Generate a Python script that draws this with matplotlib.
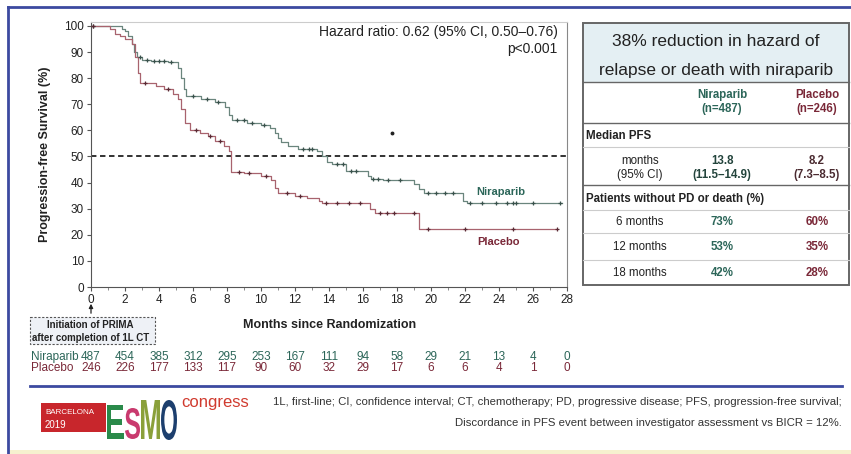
import numpy as np
import matplotlib
matplotlib.use("Agg")
import matplotlib.pyplot as plt
from matplotlib import transforms
from matplotlib.patches import Rectangle, PathPatch
from matplotlib.textpath import TextPath
from matplotlib.font_manager import FontProperties
from matplotlib.transforms import Affine2D

plt.rcParams['font.family'] = ['Liberation Sans', 'DejaVu Sans']

# --- KM curves (time in months, PFS in %) ---
nir_t = [0, 1.8, 2.0, 2.2, 2.4, 2.55, 2.7, 3.0, 3.5, 4.5, 5.1, 5.3, 5.45, 5.6, 6.5, 7.3,
         7.9, 8.1, 8.3, 9.2, 10.0, 10.5, 10.8, 11.0, 11.2, 11.6, 12.2, 13.3, 13.6, 13.9,
         14.2, 15.0, 16.3, 16.5, 17.2, 19.0, 19.3, 19.6, 21.9, 22.1, 27.7]
nir_s = [100, 99, 98, 96, 93, 90, 88, 87, 86.5, 86, 84, 80, 76, 73, 72, 71,
         69, 66, 64, 63, 62, 61, 59, 57, 55.5, 54, 53, 52, 50, 48,
         47, 44.5, 42.5, 41.5, 41, 39.5, 37.5, 36, 33, 32, 32]
pla_t = [0, 1.1, 1.4, 1.7, 2.0, 2.4, 2.6, 2.75, 2.9, 3.8, 4.3, 4.8, 5.1, 5.3, 5.5, 5.8,
         6.4, 6.9, 7.3, 7.8, 8.1, 8.25, 9.0, 10.0, 10.6, 10.85, 11.0, 12.0, 12.7, 13.4,
         13.6, 16.4, 16.7, 19.3, 27.4]
pla_s = [100, 99, 97, 96, 95, 93, 88, 82, 78, 77, 76, 74, 72, 68, 63, 60,
         59, 58, 56, 54, 52, 44, 43.5, 42.5, 41, 38, 36, 35, 34, 33,
         32, 30, 28.4, 22.3, 22.3]
nir_cens = [0.1, 2.9, 3.3, 3.7, 4.0, 4.3, 4.7, 6.0, 6.8, 7.5, 8.6, 9.0, 9.5, 10.2, 12.5,
            12.8, 13.0, 14.5, 14.8, 15.3, 15.6, 16.6, 16.9, 17.5, 18.2, 19.8, 20.3, 20.8,
            21.3, 22.3, 23.0, 23.8, 24.5, 24.8, 25.0, 26.0, 27.6]
pla_cens = [0.1, 3.2, 4.5, 6.2, 7.0, 7.6, 8.7, 9.3, 10.3, 11.5, 12.3, 13.8, 14.5, 15.2,
            15.8, 17.0, 17.4, 17.8, 19.0, 19.8, 22.0, 24.8, 27.4]

risk_times = [0, 2, 4, 6, 8, 10, 12, 14, 16, 18, 20, 22, 24, 26, 28]
nir_risk = [487, 454, 385, 312, 295, 253, 167, 111, 94, 58, 29, 21, 13, 4, 0]
pla_risk = [246, 226, 177, 133, 117, 90, 60, 32, 29, 17, 6, 6, 4, 1, 0]

tbl_rows = ["6 months", "12 months", "18 months"]
tbl_nir = ["73%", "53%", "42%"]
tbl_pla = ["60%", "35%", "28%"]

NIR = '#2c6659'
PLA = '#7a2838'
BLUE = '#3c4aa0'

fig = plt.figure(figsize=(8.51, 4.54), dpi=100)
W, H = 851, 454

ax = fig.add_axes([91 / W, 1 - 287 / H, 476 / W, 265 / H])
ax.step(nir_t, nir_s, where='post', color='#6a857d', lw=0.9, zorder=3)
ax.step(pla_t, pla_s, where='post', color='#a8636e', lw=0.9, zorder=3)


def surv_at(t, ts, ss):
    i = np.searchsorted(ts, t, side='right') - 1
    return ss[max(i, 0)]


ax.plot(nir_cens, [surv_at(c, nir_t, nir_s) for c in nir_cens], ls='none', marker='+',
        ms=3, mew=0.9, color='#3a524c', zorder=4)
ax.plot(pla_cens, [surv_at(c, pla_t, pla_s) for c in pla_cens], ls='none', marker='+',
        ms=3, mew=0.9, color='#5a2a34', zorder=4)
ax.plot([17.7], [59], ls='none', marker='o', ms=1.8, color='#222')

ax.axhline(50, color='#222', lw=1.3, ls=(0, (3, 2)), zorder=2)

ax.set_xlim(0, 28)
ax.set_ylim(0, 101.5)
ax.set_xticks(range(0, 29, 2))
ax.set_xticks(range(1, 29, 2), minor=True)
ax.set_yticks(range(0, 101, 10))
ax.tick_params(axis='both', which='major', length=3, width=0.8, color='#555',
               labelsize=8.5, labelcolor='#222', pad=2)
ax.tick_params(axis='x', which='minor', length=2, width=0.6, color='#777')
for s in ['left', 'bottom']:
    ax.spines[s].set_color('#555')
ax.spines['top'].set_color('#cccccc')
ax.spines['right'].set_color('#888888')
ax.set_ylabel('Progression-free Survival (%)', fontsize=9, fontweight='bold', color='#222')
ax.yaxis.set_label_coords(-0.084, 0.5)

ax.text(0.98, 0.93, 'Hazard ratio: 0.62 (95% CI, 0.50–0.76)\np<0.001', transform=ax.transAxes,
        ha='right', va='center', fontsize=10, color='#222', linespacing=1.2)
ax.text(24.1, 36.5, 'Niraparib', color=NIR, fontsize=8, fontweight='bold', ha='center', va='center')
ax.text(24.0, 17.3, 'Placebo', color=PLA, fontsize=8, fontweight='bold', ha='center', va='center')

# overlay in pixel coordinates for the slide decorations
ov = fig.add_axes([0, 0, 1, 1])
ov.set_xlim(0, W)
ov.set_ylim(H, 0)
ov.axis('off')
ov.patch.set_visible(False)

# slide frame
ov.plot([8, 8], [7, H], color=BLUE, lw=2)
ov.plot([8, W], [7, 7], color=BLUE, lw=2)
ov.plot([30, 842], [386, 386], color=BLUE, lw=2)
ov.add_patch(Rectangle((8, 450), W, 4, fc='#f6f1cf', ec='none'))

ov.text(330, 325, 'Months since Randomization', fontsize=9, fontweight='bold',
        ha='center', va='center', color='#222')

# initiation box and arrow
ov.annotate('', xy=(91, 301), xytext=(91, 316),
            arrowprops=dict(arrowstyle='-|>', color='#222', lw=0.9, mutation_scale=6))
ov.add_patch(Rectangle((30, 317), 125, 27, fc='#eef1f6', ec='#555', lw=0.8, ls=(0, (2, 1.5))))
ov.text(90, 325, 'Initiation of PRIMA', fontsize=7, fontweight='bold', ha='center', va='center', color='#222')
ov.text(91, 338, 'after completion of 1L CT', fontsize=7, fontweight='bold', ha='center', va='center', color='#222')

# numbers at risk
bt = transforms.blended_transform_factory(ax.transData, ov.transData)
ov.text(31, 357, 'Niraparib', fontsize=8.5, color=NIR, ha='left', va='center')
ov.text(31, 368, 'Placebo', fontsize=8.5, color=PLA, ha='left', va='center')
for t, a, b in zip(risk_times, nir_risk, pla_risk):
    ax.text(t, 357, str(a), transform=bt, fontsize=8.5, color=NIR, ha='center', va='center', clip_on=False)
    ax.text(t, 368, str(b), transform=bt, fontsize=8.5, color=PLA, ha='center', va='center', clip_on=False)

# summary table
L, R = 583, 849
ov.add_patch(Rectangle((L, 23), R - L, 59, fc='#e4eff3', ec='none'))
ov.add_patch(Rectangle((L, 23), R - L, 262, fc='none', ec='#666', lw=1.4))
for y, c in [(82, '#666'), (123, '#666'), (147, '#ccc'), (185, '#666'),
             (210, '#ccc'), (233, '#ccc'), (260, '#ccc')]:
    ov.plot([L, R], [y, y], color=c, lw=1.0 if c == '#666' else 0.8)
ov.text(716, 42, '38% reduction in hazard of', fontsize=12.5, ha='center', va='center', color='#222')
ov.text(716, 70, 'relapse or death with niraparib', fontsize=12.5, ha='center', va='center', color='#222')
cN, cP, cL = 722, 817, 640
fs = 8.3
ov.text(cN, 102, 'Niraparib\n(n=487)', fontsize=fs, fontweight='bold', color=NIR,
        ha='center', va='center', linespacing=1.2)
ov.text(cP, 102, 'Placebo\n(n=246)', fontsize=fs, fontweight='bold', color=PLA,
        ha='center', va='center', linespacing=1.2)
ov.text(586, 136, 'Median PFS', fontsize=fs, fontweight='bold', color='#222', ha='left', va='center')
ov.text(cL, 168, 'months\n(95% CI)', fontsize=fs, color='#222', ha='center', va='center', linespacing=1.2)
ov.text(cN, 168, '13.8\n(11.5–14.9)', fontsize=fs, fontweight='bold', color='#23443c',
        ha='center', va='center', linespacing=1.2)
ov.text(cP, 168, '8.2\n(7.3–8.5)', fontsize=fs, fontweight='bold', color='#4a2a30',
        ha='center', va='center', linespacing=1.2)
ov.text(586, 199, 'Patients without PD or death (%)', fontsize=fs, fontweight='bold',
        color='#222', ha='left', va='center')
for y, lab, a, b in zip([222, 247, 273], tbl_rows, tbl_nir, tbl_pla):
    ov.text(cL, y, lab, fontsize=fs, color='#222', ha='center', va='center')
    ov.text(cN, y, a, fontsize=fs, fontweight='bold', color=NIR, ha='center', va='center')
    ov.text(cP, y, b, fontsize=fs, fontweight='bold', color=PLA, ha='center', va='center')

# footnote
ov.text(842, 402, '1L, first-line; CI, confidence interval; CT, chemotherapy; PD, progressive disease; '
        'PFS, progression-free survival;', fontsize=8.2, color='#333', ha='right', va='center')
ov.text(842, 423, 'Discordance in PFS event between investigator assessment vs BICR = 12%.',
        fontsize=8.2, color='#333', ha='right', va='center')

# congress logo
ov.add_patch(Rectangle((41, 403), 65, 29, fc='#c8262c', ec='none'))
ov.text(45, 412, 'BARCELONA', fontsize=5.8, color='white', ha='left', va='center')
ov.text(45, 425, '2019', fontsize=7, color='white', ha='left', va='center')
fp = FontProperties(family='Liberation Sans', weight='bold')


def letter(ch, x0, x1, y0, y1, color):
    tp = TextPath((0, 0), ch, size=10, prop=fp)
    ext = tp.get_extents()
    tr = Affine2D().translate(-ext.x0, -ext.y0).scale((x1 - x0) / ext.width,
                                                      -(y1 - y0) / ext.height).translate(x0, y1)
    ov.add_patch(PathPatch(tr.transform_path(tp), fc=color, ec='none'))


letter('E', 107, 124, 405, 439, '#2a8a4a')
letter('S', 125, 140, 408, 439, '#c93a6e')
letter('M', 141, 160, 400, 439, '#8aa03a')
letter('O', 161, 177, 400, 440, '#1d3f6e')
ov.text(181, 403, 'congress', fontsize=12, color='#d03a2e', ha='left', va='center')

fig.savefig('out.png', dpi=100)
